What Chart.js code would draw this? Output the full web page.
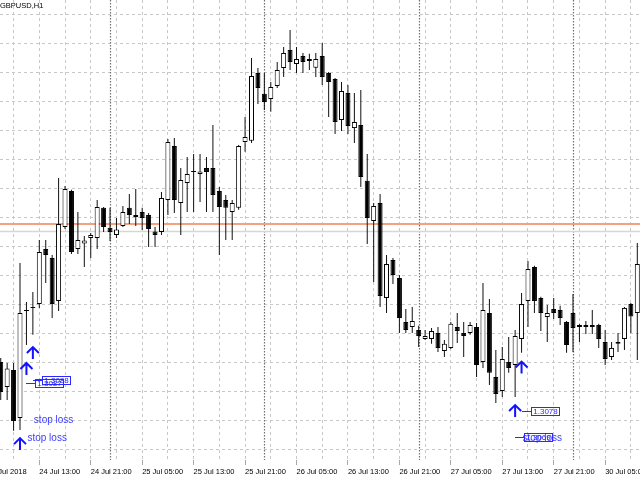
<!DOCTYPE html>
<html>
<head>
<meta charset="utf-8">
<script src="https://cdn.jsdelivr.net/npm/chart.js@4.4.1/dist/chart.umd.min.js"></script>
<style>
  html, body { margin: 0; padding: 0; background: #fff; }
  #wrap { width: 640px; height: 480px; }
</style>
</head>
<body>
<div id="wrap"><canvas id="chart" width="640" height="480"></canvas></div>
<script>
/* GBPUSD H1 — MetaTrader style candles, 24-30 Jul 2018 */

var symbolTitle = 'GBPUSD,H1';
var firstBar = -6;        // bar index of leftmost candle, 0 = 24 Jul 13:00
var labelStart = -8;      // bar of the first time label (24 Jul 05:00)

var opens = [
  1.30953, 1.30867, 1.30926, 1.30760, 1.31133, 1.31143, 1.31153, 1.31343, 1.31312, 1.31164,
  1.31419, 1.31543, 1.31343, 1.31362, 1.31381, 1.31381, 1.31485, 1.31416, 1.31391, 1.31422,
  1.31485, 1.31453, 1.31471, 1.31460, 1.31403, 1.31402, 1.31512, 1.31698, 1.31502, 1.31571,
  1.31612, 1.31602, 1.31622, 1.31622, 1.31543, 1.31512, 1.31471, 1.31485, 1.31712, 1.31716,
  1.31950, 1.31878, 1.31860, 1.31905, 1.31967, 1.32029, 1.31981, 1.32009, 1.31998, 1.31968,
  1.32009, 1.31950, 1.31929, 1.31788, 1.31881, 1.31760, 1.31771, 1.31578, 1.31440, 1.31502,
  1.31174, 1.31305, 1.31243, 1.31091, 1.31074, 1.31064, 1.31033, 1.31033, 1.31053, 1.30991,
  1.31002, 1.31074, 1.31053, 1.31053, 1.31074, 1.30953, 1.31122, 1.30902, 1.30853, 1.30953,
  1.30943, 1.31033, 1.31164, 1.31281, 1.31174, 1.31109, 1.31136, 1.31133, 1.31091, 1.31122,
  1.31081, 1.31081, 1.31081, 1.31081, 1.31022, 1.30971, 1.31016, 1.31033, 1.31153, 1.31122
];
var highs = [
  1.30967, 1.30950, 1.30950, 1.31295, 1.31160, 1.31195, 1.31374, 1.31374, 1.31322, 1.31588,
  1.31560, 1.31547, 1.31471, 1.31388, 1.31398, 1.31512, 1.31488, 1.31485, 1.31450, 1.31491,
  1.31533, 1.31550, 1.31485, 1.31467, 1.31419, 1.31540, 1.31722, 1.31726, 1.31622, 1.31660,
  1.31671, 1.31671, 1.31660, 1.31771, 1.31557, 1.31529, 1.31512, 1.31702, 1.31798, 1.32002,
  1.31967, 1.31950, 1.31919, 1.31988, 1.32040, 1.32098, 1.32040, 1.32019, 1.32016, 1.32019,
  1.32053, 1.31953, 1.31933, 1.31919, 1.31909, 1.31881, 1.31891, 1.31671, 1.31502, 1.31533,
  1.31322, 1.31312, 1.31253, 1.31136, 1.31143, 1.31078, 1.31064, 1.31071, 1.31074, 1.31029,
  1.31091, 1.31122, 1.31091, 1.31091, 1.31088, 1.31226, 1.31171, 1.30995, 1.31005, 1.31040,
  1.31064, 1.31191, 1.31302, 1.31285, 1.31178, 1.31150, 1.31174, 1.31147, 1.31095, 1.31188,
  1.31085, 1.31095, 1.31133, 1.31085, 1.31064, 1.31022, 1.31053, 1.31143, 1.31157, 1.31364
];
var lows = [
  1.30822, 1.30822, 1.30716, 1.30719, 1.31012, 1.31047, 1.31140, 1.31226, 1.31105, 1.31129,
  1.31412, 1.31326, 1.31326, 1.31281, 1.31312, 1.31343, 1.31402, 1.31371, 1.31381, 1.31419,
  1.31429, 1.31422, 1.31409, 1.31350, 1.31350, 1.31391, 1.31460, 1.31467, 1.31391, 1.31471,
  1.31471, 1.31505, 1.31471, 1.31471, 1.31322, 1.31374, 1.31374, 1.31478, 1.31678, 1.31709,
  1.31843, 1.31822, 1.31816, 1.31898, 1.31936, 1.31960, 1.31950, 1.31950, 1.31960, 1.31936,
  1.31909, 1.31798, 1.31740, 1.31750, 1.31740, 1.31709, 1.31557, 1.31360, 1.31229, 1.31143,
  1.31122, 1.31222, 1.31053, 1.31053, 1.31053, 1.31005, 1.31029, 1.31016, 1.30988, 1.30971,
  1.30998, 1.31019, 1.30971, 1.31047, 1.30902, 1.30933, 1.30874, 1.30812, 1.30833, 1.30916,
  1.30833, 1.30985, 1.31074, 1.31122, 1.31060, 1.31022, 1.31102, 1.31081, 1.30985, 1.30988,
  1.31022, 1.31050, 1.31050, 1.31002, 1.30943, 1.30960, 1.30988, 1.30995, 1.31053, 1.30960
];
var closes = [
  1.30850, 1.30931, 1.30750, 1.31122, 1.31129, 1.31140, 1.31333, 1.31322, 1.31153, 1.31429,
  1.31550, 1.31333, 1.31374, 1.31372, 1.31391, 1.31488, 1.31419, 1.31402, 1.31410, 1.31471,
  1.31460, 1.31460, 1.31450, 1.31412, 1.31391, 1.31519, 1.31712, 1.31512, 1.31581, 1.31602,
  1.31609, 1.31610, 1.31609, 1.31529, 1.31488, 1.31485, 1.31502, 1.31698, 1.31729, 1.31940,
  1.31898, 1.31850, 1.31902, 1.31960, 1.32019, 1.31988, 1.31998, 1.31988, 1.31991, 1.31998,
  1.31936, 1.31919, 1.31781, 1.31888, 1.31767, 1.31781, 1.31591, 1.31450, 1.31491, 1.31181,
  1.31291, 1.31253, 1.31105, 1.31064, 1.31095, 1.31043, 1.31043, 1.31060, 1.31002, 1.31016,
  1.31085, 1.31060, 1.31043, 1.31081, 1.30943, 1.31133, 1.30916, 1.30843, 1.30964, 1.30933,
  1.31043, 1.31153, 1.31274, 1.31164, 1.31122, 1.31122, 1.31122, 1.31105, 1.31012, 1.31071,
  1.31074, 1.31074, 1.31074, 1.31033, 1.30964, 1.31002, 1.31022, 1.31140, 1.31110, 1.31291
];

var timeLabels = ['24 Jul 2018', '24 Jul 13:00', '24 Jul 21:00', '25 Jul 05:00', '25 Jul 13:00', '25 Jul 21:00',
  '26 Jul 05:00', '26 Jul 13:00', '26 Jul 21:00', '27 Jul 05:00', '27 Jul 13:00', '27 Jul 21:00', '30 Jul 05:00'];
var daySeparators = [11, 35, 59, 83];
var gridPrices = [1.3065, 1.3075, 1.3085, 1.3095, 1.3105, 1.3115, 1.3125, 1.3135,
  1.3145, 1.3155, 1.3165, 1.3175, 1.3185, 1.3195, 1.3205, 1.3215];
var askPrice = 1.31429;
var bidPrice = 1.31403;

// buy arrows, "stop loss" notes and price labels placed on the chart
var arrowBars = [-1, -2, -3, 75, 74];
var arrowPrices = [1.31005, 1.30950, 1.30691, 1.30955, 1.30805];
var noteBars = [-1, -2, 75];
var notePrices = [1.30752, 1.30691, 1.30691];
var labelBars = [-1, -2, 75, 74];
var labelPrices = [1.30893, 1.30881, 1.30785, 1.30694];
var labelTexts = ['1.3088', '1.3087', '1.3078', '1.3069'];

Chart.defaults.font.family = '"Liberation Sans", Arial, sans-serif';

var wicks = [], bodies = [], bodyColors = [];
for (var i = 0; i < opens.length; i++) {
  var bar = firstBar + i;
  wicks.push({ x: bar, y: [lows[i], highs[i]] });
  bodies.push({ x: bar, y: [opens[i], closes[i]] });
  bodyColors.push(closes[i] > opens[i] ? '#ffffff' : '#000000');
}

function drawArrow(ctx, x, y) {
  ctx.beginPath();
  ctx.moveTo(x, y + 12); ctx.lineTo(x, y + 1);
  ctx.moveTo(x - 6, y + 6); ctx.lineTo(x, y); ctx.lineTo(x + 6, y + 6);
  ctx.stroke();
}

var mtOverlay = {
  id: 'mtOverlay',
  beforeDatasetsDraw: function (chart) {
    var ctx = chart.ctx, xs = chart.scales.x, a = chart.chartArea;
    ctx.save();
    ctx.strokeStyle = '#707070';
    ctx.lineWidth = 1.2;
    ctx.setLineDash([1.5, 1.5]);
    daySeparators.forEach(function (b) {
      var px = Math.round(xs.getPixelForValue(b)) + 0.5;
      ctx.beginPath(); ctx.moveTo(px, a.top); ctx.lineTo(px, a.bottom); ctx.stroke();
    });
    ctx.restore();
  },
  afterDatasetsDraw: function (chart) {
    var ctx = chart.ctx, xs = chart.scales.x, ys = chart.scales.y;
    ctx.save();
    ctx.strokeStyle = '#1212ff';
    ctx.lineWidth = 2;
    for (var i = 0; i < arrowBars.length; i++) {
      drawArrow(ctx, xs.getPixelForValue(arrowBars[i]), ys.getPixelForValue(arrowPrices[i]));
    }
    ctx.fillStyle = '#3c3cff';
    ctx.font = '10px "Liberation Sans", Arial, sans-serif';
    ctx.textBaseline = 'middle';
    ctx.textAlign = 'left';
    for (var j = 0; j < noteBars.length; j++) {
      ctx.fillText('stop loss', xs.getPixelForValue(noteBars[j]) + 1, ys.getPixelForValue(notePrices[j]));
    }
    ctx.lineWidth = 1;
    ctx.strokeStyle = '#2a2aff';
    ctx.fillStyle = '#2a2aff';
    ctx.font = '8px "Liberation Sans", Arial, sans-serif';
    ctx.textAlign = 'center';
    for (var k = 0; k < labelBars.length; k++) {
      var lx = Math.round(xs.getPixelForValue(labelBars[k]));
      var ly = Math.round(ys.getPixelForValue(labelPrices[k])) + 0.5;
      ctx.beginPath(); ctx.moveTo(lx, ly); ctx.lineTo(lx + 9, ly); ctx.stroke();
      ctx.strokeRect(lx + 9.5, ly - 4, 28, 8);
      ctx.fillText(labelTexts[k], lx + 23.5, ly + 0.5);
    }
    ctx.restore();
  },
  afterDraw: function (chart) {
    var ctx = chart.ctx;
    ctx.save();
    ctx.fillStyle = '#000';
    ctx.font = '7.5px "Liberation Sans", Arial, sans-serif';
    ctx.textBaseline = 'top';
    ctx.fillText(symbolTitle, 0, 2);
    ctx.restore();
  }
};

new Chart(document.getElementById('chart'), {
  type: 'bar',
  data: {
    datasets: [
      { data: bodies, backgroundColor: bodyColors, borderColor: '#000', borderWidth: 1, borderSkipped: false,
        barThickness: 5, maxBarThickness: 5, minBarLength: 1, grouped: false, inflateAmount: 0, order: 0 },
      { data: wicks, backgroundColor: '#111', borderWidth: 0, barThickness: 1, maxBarThickness: 1,
        grouped: false, inflateAmount: 0, order: 1 },
      { type: 'line', data: [{ x: -10, y: askPrice }, { x: 100, y: askPrice }], borderColor: '#f5a07e',
        borderWidth: 2, pointRadius: 0, order: 2 },
      { type: 'line', data: [{ x: -10, y: bidPrice }, { x: 100, y: bidPrice }], borderColor: '#d6d6d6',
        borderWidth: 1.5, pointRadius: 0, order: 3 }
    ]
  },
  options: {
    responsive: false, animation: false, events: [],
    layout: { padding: 0, autoPadding: false },
    plugins: { legend: { display: false }, tooltip: { enabled: false } },
    scales: {
      x: {
        type: 'linear', min: -6.112, max: 93.42, offset: false,
        afterBuildTicks: function (s) {
          var t = [];
          for (var v = labelStart; v <= 92; v += 4) t.push({ value: v });
          s.ticks = t;
        },
        afterFit: function (s) { s.height = 20; s.paddingLeft = 0; s.paddingRight = 0; },
        grid: { offset: false, color: '#c8c8c8', lineWidth: 1, tickLength: 5,
          tickColor: function (c) { return c.tick && (c.tick.value - labelStart) % 8 === 0 ? '#a8a8a8' : 'rgba(0,0,0,0)'; } },
        border: { display: false, dash: [3, 3] },
        ticks: {
          autoSkip: false, maxRotation: 0, minRotation: 0, align: 'start', padding: 2,
          color: '#000', font: { size: 7.5 },
          callback: function (v) { return (v - labelStart) % 8 === 0 ? timeLabels[(v - labelStart) / 8] : ''; }
        }
      },
      y: {
        type: 'linear', position: 'right', min: 1.306155, max: 1.322017,
        afterBuildTicks: function (s) { s.ticks = gridPrices.map(function (p) { return { value: p }; }); },
        afterFit: function (s) { s.width = 0; s.paddingTop = 0; s.paddingBottom = 0; },
        grid: { color: '#c8c8c8', lineWidth: 1, drawTicks: false },
        border: { display: false, dash: [3, 3] },
        ticks: { display: false }
      }
    }
  },
  plugins: [mtOverlay]
});
</script>
</body>
</html>
